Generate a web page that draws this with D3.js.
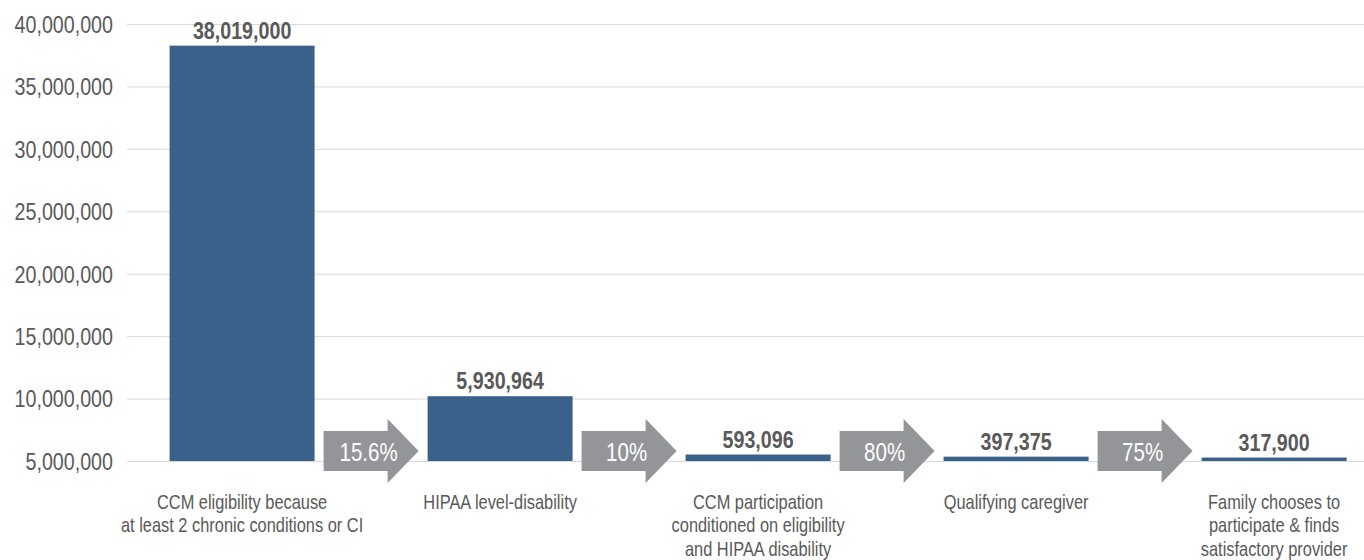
<!DOCTYPE html>
<html>
<head>
<meta charset="utf-8">
<script src="https://cdn.jsdelivr.net/npm/d3@7"></script>
<style>
  body { margin: 0; background: #fff; }
  text { font-family: "Liberation Sans", Arial, sans-serif; }
  .tick line { stroke: #d9d9d9; }
  .tick text { fill: #595959; font-size: 24px; }
  .value-label { fill: #595959; font-size: 24px; font-weight: bold; }
  .cat-label { fill: #595959; font-size: 20px; }
  .rate-label { fill: #fff; font-size: 25px; }
</style>
</head>
<body>
<svg width="1364" height="560"></svg>
<script>
const categories = [
    ['CCM eligibility because', 'at least 2 chronic conditions or CI'],
    ['HIPAA level-disability'],
    ['CCM participation', 'conditioned on eligibility', 'and HIPAA disability'],
    ['Qualifying caregiver'],
    ['Family chooses to', 'participate & finds', 'satisfactory provider']
];
const values = [38019000, 5930964, 593096, 397375, 317900];
const rates = ['15.6%', '10%', '80%', '75%'];
const tickValues = [5e6, 10e6, 15e6, 20e6, 25e6, 30e6, 35e6, 40e6];

const svg = d3.select('svg');
const width = +svg.attr('width');

const margin = { top: 24, left: 127, bottom: 461 };

// squeeze text horizontally to get a narrow gothic look
const narrow = sel => sel.each(function () {
    const t = d3.select(this);
    const x = +t.attr('x') || 0, y = +t.attr('y') || 0;
    t.attr('transform', `translate(${x},${y}) scale(0.82,1)`)
        .attr('x', 0).attr('y', 0);
    t.selectAll('tspan').attr('x', 0);
});

const xScale = d3.scaleBand()
    .domain(d3.range(values.length))
    .range([169.6, 1346.6])
    .paddingInner(0.438)
    .paddingOuter(0);

// axis labels run 5M..40M, bars are drawn from zero on the same pixel range
const yAxisScale = d3.scaleLinear()
    .domain([5e6, 40e6])
    .range([margin.bottom, margin.top]);

const yBar = d3.scaleLinear()
    .domain([0, 40e6])
    .range([margin.bottom, margin.top]);

const yAxis = d3.axisLeft(yAxisScale)
    .tickValues(tickValues)
    .tickFormat(d3.format(','))
    .tickSize(-(width - margin.left))
    .tickPadding(14);

const yAxisG = svg.append('g')
    .attr('transform', `translate(${margin.left},0)`)
    .call(yAxis);
yAxisG.select('.domain').remove();
yAxisG.selectAll('.tick text').attr('dy', '0.35em').call(narrow);

svg.selectAll('rect.bar').data(values)
    .enter().append('rect')
    .attr('class', 'bar')
    .attr('x', (d, i) => xScale(i))
    .attr('y', d => yBar(d))
    .attr('width', xScale.bandwidth())
    .attr('height', d => yBar(0) - yBar(d))
    .attr('fill', '#3a6189');

svg.selectAll('text.value-label').data(values)
    .enter().append('text')
    .attr('class', 'value-label')
    .attr('x', (d, i) => xScale(i) + xScale.bandwidth() / 2)
    .attr('y', d => yBar(d) - 7)
    .attr('text-anchor', 'middle')
    .text(d3.format(','))
    .call(narrow);

const catG = svg.selectAll('text.cat-label').data(categories)
    .enter().append('text')
    .attr('class', 'cat-label')
    .attr('text-anchor', 'middle')
    .attr('x', (d, i) => xScale(i) + xScale.bandwidth() / 2)
    .attr('y', margin.bottom + 48);
catG.selectAll('tspan').data(d => d)
    .enter().append('tspan')
    .attr('dy', (d, i) => i === 0 ? 0 : 23.5)
    .text(d => d);
catG.call(narrow);

// arrows between bars
const arrowW = 95, bodyW = 64;
const arrowPath = x0 => {
    const cy = yAxisScale(5e6) - 10;
    return d3.line()([
        [x0, cy - 20], [x0 + bodyW, cy - 20], [x0 + bodyW, cy - 32],
        [x0 + arrowW, cy], [x0 + bodyW, cy + 32], [x0 + bodyW, cy + 20],
        [x0, cy + 20]
    ]) + 'Z';
};
const arrowX = i => {
    const gapStart = xScale(i) + xScale.bandwidth();
    const gapEnd = xScale(i + 1);
    return (gapStart + gapEnd) / 2 - arrowW / 2;
};

const arrowG = svg.selectAll('g.arrow').data(rates)
    .enter().append('g')
    .attr('class', 'arrow');

arrowG.append('path')
    .attr('d', (d, i) => arrowPath(arrowX(i)))
    .attr('fill', '#939598');

arrowG.append('text')
    .attr('class', 'rate-label')
    .attr('x', (d, i) => arrowX(i) + 45)
    .attr('y', yAxisScale(5e6) - 0.5)
    .attr('text-anchor', 'middle')
    .text(d => d)
    .call(narrow);
</script>
</body>
</html>
